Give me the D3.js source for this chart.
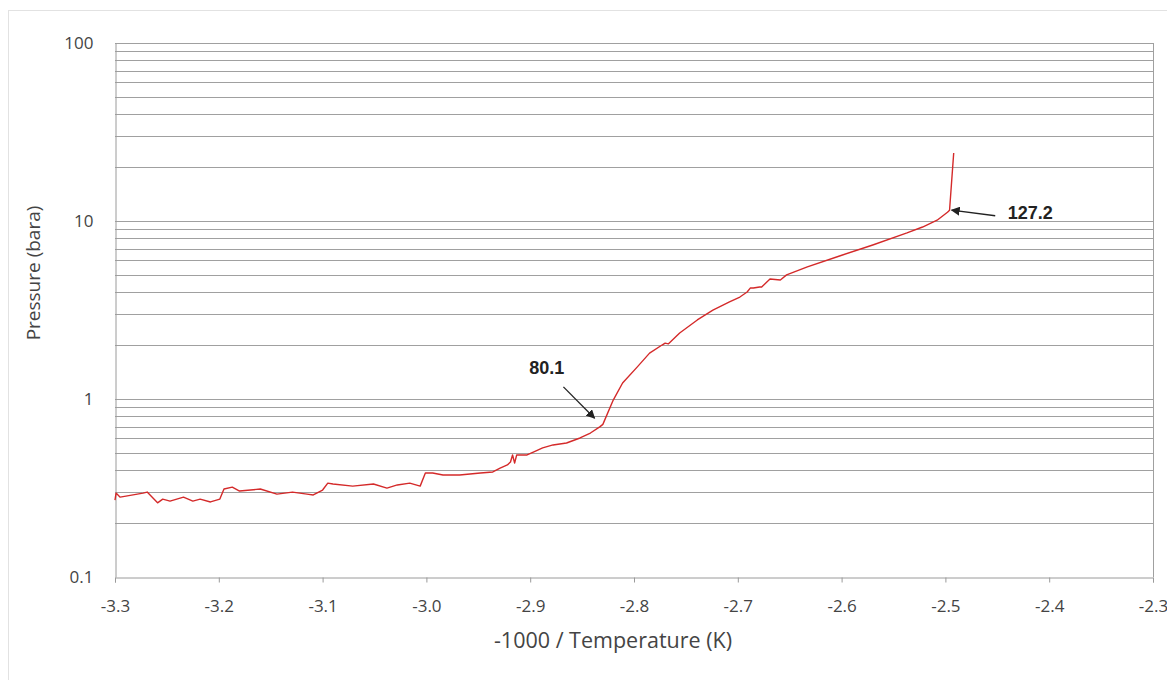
<!DOCTYPE html>
<html>
<head>
<meta charset="utf-8">
<script src="https://cdn.jsdelivr.net/npm/d3@7/dist/d3.min.js"></script>
<style>
  html, body { margin: 0; padding: 0; background: #fff; }
  svg { display: block; }
  text { font-family: "Open Sans", "Liberation Sans", sans-serif; }
</style>
</head>
<body>
<svg id="chart" width="1167" height="680"></svg>
<script>
// -------- data --------
const invT = [
  -3.300, -3.299, -3.295, -3.273, -3.269, -3.259, -3.254, -3.247, -3.234, -3.225, -3.218, -3.208, -3.199,
  -3.195, -3.187, -3.180, -3.160, -3.144, -3.129, -3.115, -3.109, -3.100,
  -3.095, -3.090, -3.071, -3.051, -3.038, -3.028, -3.016, -3.006,
  -3.001, -2.994, -2.984, -2.968, -2.948, -2.936, -2.929, -2.922, -2.919, -2.917, -2.915, -2.913,
  -2.903, -2.897, -2.888, -2.878, -2.865, -2.852, -2.842, -2.833, -2.830,
  -2.820, -2.811, -2.797, -2.785, -2.773, -2.770, -2.767, -2.756, -2.739, -2.724, -2.708,
  -2.698, -2.691, -2.688, -2.685, -2.679, -2.677, -2.669, -2.659, -2.653, -2.633, -2.602,
  -2.570, -2.537, -2.522, -2.508, -2.498, -2.496, -2.492
];
const pressure = [
  0.270, 0.296, 0.281, 0.296, 0.300, 0.261, 0.274, 0.267, 0.281, 0.267, 0.274, 0.264, 0.274,
  0.312, 0.320, 0.304, 0.312, 0.292, 0.300, 0.292, 0.289, 0.308,
  0.337, 0.333, 0.324, 0.333, 0.316, 0.329, 0.337, 0.324,
  0.384, 0.384, 0.374, 0.374, 0.384, 0.389, 0.409, 0.426, 0.443, 0.485, 0.437, 0.485,
  0.485, 0.503, 0.531, 0.552, 0.566, 0.604, 0.644, 0.697, 0.720,
  0.986, 1.23, 1.51, 1.81, 2.01, 2.06, 2.04, 2.35, 2.78, 3.16, 3.51,
  3.74, 3.99, 4.20, 4.20, 4.26, 4.26, 4.72, 4.66, 4.98, 5.52, 6.36,
  7.33, 8.57, 9.25, 10.1, 11.2, 11.5, 24.1
];

const xTicks = [-3.3, -3.2, -3.1, -3.0, -2.9, -2.8, -2.7, -2.6, -2.5, -2.4, -2.3];
const xTickLabels = ["-3.3", "-3.2", "-3.1", "-3.0", "-2.9", "-2.8", "-2.7", "-2.6", "-2.5", "-2.4", "-2.3"];
const yTicks = [0.1, 1, 10, 100];
const yTickLabels = ["0.1", "1", "10", "100"];
const yGrid = [0.2, 0.3, 0.4, 0.5, 0.6, 0.7, 0.8, 0.9, 1, 2, 3, 4, 5, 6, 7, 8, 9, 10,
               20, 30, 40, 50, 60, 70, 80, 90, 100];

const annLabels = ["80.1", "127.2"];
const annText = [[-2.884, 1.50], [-2.440, 11.1]];
const annFrom = [[-2.868, 1.17], [-2.452, 10.7]];
const annTo   = [[-2.838, 0.78], [-2.494, 11.5]];

const xTitle = "-1000 / Temperature (K)";
const yTitle = "Pressure (bara)";

// -------- layout --------
const svg = d3.select("#chart");
const W = 1167, H = 680;
const m = { left: 115, right: 1153, top: 43, bottom: 577 };

svg.append("rect").attr("x", 8.5).attr("y", 10.5).attr("width", W).attr("height", H)
  .attr("fill", "#fff").attr("stroke", "#e2e2e2");

const x = d3.scaleLinear().domain([-3.3, -2.3]).range([m.left, m.right]);
const y = d3.scaleLog().domain([0.1, 100]).range([m.bottom, m.top]);

// grid
svg.append("g").selectAll("line").data(yGrid).join("line")
  .attr("x1", m.left).attr("x2", m.right)
  .attr("y1", d => Math.round(y(d)) + 0.5).attr("y2", d => Math.round(y(d)) + 0.5)
  .attr("stroke", "#a0a0a0").attr("stroke-width", 1);

// right border
svg.append("line").attr("x1", m.right + 0.5).attr("x2", m.right + 0.5)
  .attr("y1", m.top).attr("y2", m.bottom).attr("stroke", "#a0a0a0");

// x axis
const xAxis = d3.axisBottom(x).tickValues(xTicks)
  .tickFormat((d, i) => xTickLabels[i]).tickSize(5).tickPadding(17);
const gx = svg.append("g").attr("transform", `translate(0,${m.bottom + 0.5})`).call(xAxis);
gx.select(".domain").attr("stroke", "#9a9a9a");
gx.selectAll(".tick line").attr("stroke", "#9a9a9a");
gx.selectAll("text").attr("fill", "#444").style("font-size", "17px");

// y axis
const yAxis = d3.axisLeft(y).tickValues(yTicks)
  .tickFormat((d, i) => yTickLabels[i]).tickSize(0).tickPadding(22);
const gy = svg.append("g").attr("transform", `translate(${m.left + 0.5},0)`).call(yAxis);
gy.select(".domain").attr("stroke", "#9a9a9a");
gy.selectAll("text").attr("fill", "#444").style("font-size", "17px");

// titles
svg.append("text").attr("x", 613).attr("y", 648)
  .attr("text-anchor", "middle").attr("fill", "#444").style("font-size", "21.5px").text(xTitle);
svg.append("text").attr("transform", `translate(40,273) rotate(-90)`)
  .attr("text-anchor", "middle").attr("fill", "#444").style("font-size", "19px").text(yTitle);

// line
const pts = invT.map((d, i) => [d, pressure[i]]);
svg.append("path").datum(pts)
  .attr("fill", "none").attr("stroke", "#d42a2a").attr("stroke-width", 1.4)
  .attr("stroke-linejoin", "round")
  .attr("d", d3.line().x(d => x(d[0])).y(d => y(d[1])));

// annotations
const defs = svg.append("defs");
defs.append("marker").attr("id", "arr").attr("viewBox", "0 0 10 10")
  .attr("refX", 9).attr("refY", 5).attr("markerWidth", 9).attr("markerHeight", 9)
  .attr("markerUnits", "userSpaceOnUse").attr("orient", "auto")
  .append("path").attr("d", "M0,0 L10,5 L0,10 z").attr("fill", "#222");

annLabels.forEach((t, i) => {
  svg.append("line")
    .attr("x1", x(annFrom[i][0])).attr("y1", y(annFrom[i][1]))
    .attr("x2", x(annTo[i][0])).attr("y2", y(annTo[i][1]))
    .attr("stroke", "#222").attr("stroke-width", 1.3).attr("marker-end", "url(#arr)");
  svg.append("text").attr("x", x(annText[i][0])).attr("y", y(annText[i][1]))
    .attr("dy", "0.35em").attr("text-anchor", i === 0 ? "middle" : "start")
    .attr("fill", "#222").style("font-weight", "bold").style("font-size", "18px")
    .style("font-family", "'Liberation Sans', Arial, sans-serif").text(t);
});
</script>
</body>
</html>
